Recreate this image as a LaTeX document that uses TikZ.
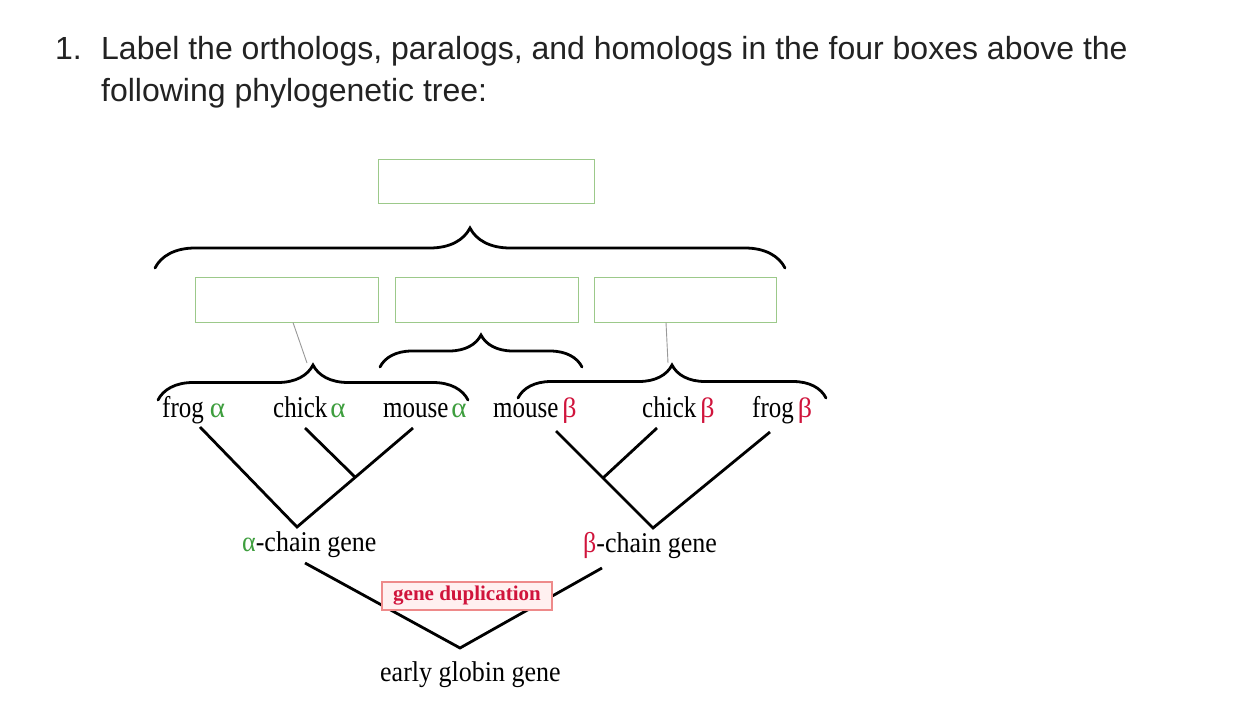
\documentclass[tikz,border=0pt]{standalone}
\usepackage{graphicx}
\usepackage{fontspec}
\setmainfont{Liberation Serif}
\newfontfamily\titlefont{Liberation Sans}
\usetikzlibrary{decorations.pathreplacing,calc}
\definecolor{boxgreen}{HTML}{9CC98A}
\definecolor{agreen}{HTML}{3E9E3E}
\definecolor{bred}{HTML}{D0143C}
\definecolor{dupborder}{HTML}{EE8A8A}
\definecolor{dupfill}{HTML}{FFF0F0}
\definecolor{titlecol}{HTML}{222222}
\tikzset{
  titletext/.style={anchor=base west, inner sep=0pt, text=titlecol, font=\titlefont\fontsize{32}{38}\selectfont},
  ansbox/.style={draw=boxgreen, line width=1pt, fill=white, inner sep=0pt},
  curly/.style={decorate, decoration={brace, amplitude=#1}, line width=2.8pt, line cap=round},
  conn/.style={draw=gray!80, line width=0.9pt},
  branch/.style={line width=2.8pt},
  leaf/.style={anchor=base west, inner sep=0pt, font=\fontsize{25}{28}\selectfont},
  genelabel/.style={anchor=base west, inner sep=0pt, font=\fontsize{26}{30}\selectfont},
  dupbox/.style={draw=dupborder, fill=dupfill, line width=2.5pt, inner sep=0pt, minimum width=170pt, minimum height=28pt, text=bred, font=\bfseries\fontsize{21}{24}\selectfont}
}
\newcommand{\tallt}[1]{\scalebox{1}[1.2]{#1}}
\newcommand{\tallg}[1]{\scalebox{1}[1.1]{#1}}
\newcommand{\al}{\textcolor{agreen}{α}}
\newcommand{\be}{\textcolor{bred}{β}}
\newcommand{\bigal}{\textcolor{agreen}{\fontsize{29}{30}\selectfont α}}
\newcommand{\bigbe}{\textcolor{bred}{\fontsize{28}{30}\selectfont β}}
\begin{document}
\begin{tikzpicture}[x=1pt,y=-1pt]
\useasboundingbox (0,0) rectangle (1252,706);
\fill[white] (0,0) rectangle (1252,706);

% title
\node[titletext] (num) at (55,60) {1.};
\node[titletext] (t1) at (101,60) {Label the orthologs, paralogs, and homologs in the four boxes above the};
\node[titletext] (t2) at (101,102) {following phylogenetic tree:};

% answer boxes
\node[ansbox, minimum width=216pt, minimum height=44pt] (top) at (486,181) {};
\node[ansbox, minimum width=183pt, minimum height=45pt] (b1) at (286.5,299.5) {};
\node[ansbox, minimum width=183pt, minimum height=45pt] (b2) at (486.5,299.5) {};
\node[ansbox, minimum width=182pt, minimum height=45pt] (b3) at (685,299.5) {};

% braces
\coordinate (BL) at (155,268); \coordinate (BR) at (785,268);
\draw[curly=40pt] (BL) -- (BR);
\coordinate (LL) at (158,400); \coordinate (LR) at (468,400);
\draw[curly=35pt] (LL) -- (LR);
\coordinate (ML) at (380,367); \coordinate (MR) at (582,367);
\draw[curly=32pt] (ML) -- (MR);
\coordinate (RL) at (518,398); \coordinate (RR) at (826,398);
\draw[curly=33pt] (RL) -- (RR);

% connectors from boxes to brace tips
\coordinate (LT) at (307,363);
\coordinate (RT) at (668,363);
\draw[conn] ($(b1.south)+(6.5,0)$) -- (LT);
\draw[conn] ($(b3.south)+(-19,0)$) -- (RT);

% leaf labels
\node[leaf] (frogA) at (162,417) {\tallt{frog}\hspace{6pt}\bigal};
\node[leaf] (chickA) at (273,417) {\tallt{chick}\hspace{3pt}\bigal};
\node[leaf] (mouseA) at (383,417) {\tallt{mouse}\hspace{3pt}\bigal};
\node[leaf] (mouseB) at (493,417) {\tallt{mouse}\hspace{4pt}\bigbe};
\node[leaf] (chickB) at (642,417) {\tallt{chick}\hspace{4pt}\bigbe};
\node[leaf] (frogB) at (752,417) {\tallt{frog}\hspace{4pt}\bigbe};

% alpha subtree
\coordinate (a1) at (200,427);
\coordinate (a2) at (305,428);
\coordinate (a3) at (413,428);
\coordinate (aJ) at (355,477);
\coordinate (aV) at (297,527);
\draw[branch] (a1) -- (aV) -- (a3);
\draw[branch] (a2) -- (aJ);

% beta subtree
\coordinate (c1) at (556,431);
\coordinate (c2) at (657,428);
\coordinate (c3) at (770,432);
\coordinate (cJ) at (603,478);
\coordinate (cV) at (653,528);
\draw[branch] (c1) -- (cV) -- (c3);
\draw[branch] (c2) -- (cJ);

% gene labels
\node[genelabel] (achain) at (242,551) {\tallg{\al-chain gene}};
\node[genelabel] (bchain) at (583,552) {\tallg{\be-chain gene}};

% root
\coordinate (r1) at (305,563);
\coordinate (rV) at (460,648);
\coordinate (r2) at (602,568);
\draw[branch] (r1) -- (rV) -- (r2);
\node[dupbox] (dup) at (467,596) {gene duplication};
\node[genelabel] (early) at (380,681) {\tallg{early globin gene}};
\end{tikzpicture}
\end{document}
